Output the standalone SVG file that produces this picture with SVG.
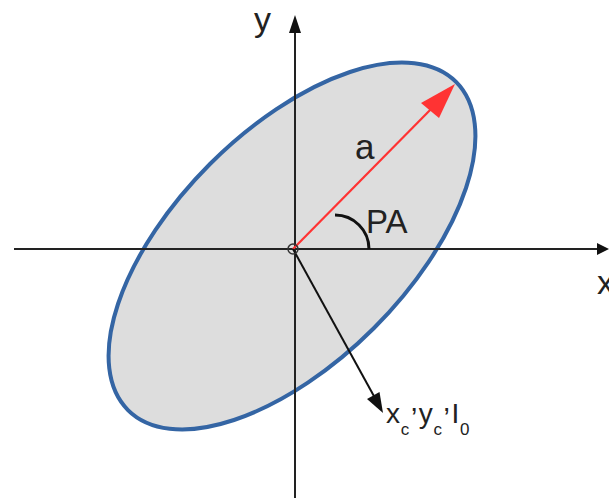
<svg xmlns="http://www.w3.org/2000/svg" width="609" height="498" viewBox="0 0 609 498">
<style>
  text { font-family: "Liberation Sans", Arial, sans-serif; fill: #222; }
  .axis { stroke: #222; stroke-width: 2; fill: none; }
  .head { fill: #111; stroke: none; }
</style>
<rect width="609" height="498" fill="#ffffff"/>
<g id="ellipse">
  <ellipse cx="292" cy="246" rx="232" ry="116" transform="rotate(-45 292 246)" fill="#dddddd" stroke="#3465a4" stroke-width="4"/>
</g>
<g id="connectors">
  <line class="axis" x1="14" y1="249" x2="600" y2="249"/>
  <polygon class="head" points="609,249 597,243 597,255"/>
  <line class="axis" x1="295" y1="498" x2="295" y2="25"/>
  <polygon class="head" points="295,15 289,33 301,33"/>
  <line x1="293" y1="249" x2="436" y2="104" stroke="#ff3333" stroke-width="2.2"/>
  <polygon points="455,84 421,103 439,118" fill="#ff3333"/>
  <line x1="293" y1="249" x2="375" y2="398" stroke="#111" stroke-width="2"/>
  <polygon class="head" points="383,413 379.5,392 367,399"/>
  <path d="M335,215 A34,34 0 0 1 369,249" fill="none" stroke="#111" stroke-width="3"/>
  <circle cx="293" cy="249" r="5" fill="none" stroke="#333" stroke-width="1.5"/>
</g>
<g id="label-y"><text x="254" y="31" font-size="34">y</text></g>
<g id="label-x"><text x="597" y="294" font-size="34">x</text></g>
<g id="label-a"><text x="355" y="159" font-size="35">a</text></g>
<g id="label-PA"><text x="366" y="233" font-size="33">PA</text></g>
<g id="label-center"><text x="386" y="423" font-size="28" letter-spacing="0.8">x<tspan font-size="17" dy="12">c</tspan><tspan dy="-24">,</tspan><tspan dy="12">y</tspan><tspan font-size="17" dy="12">c</tspan><tspan dy="-24">,</tspan><tspan dy="12">I</tspan><tspan font-size="17" dy="12">0</tspan></text></g>
</svg>
